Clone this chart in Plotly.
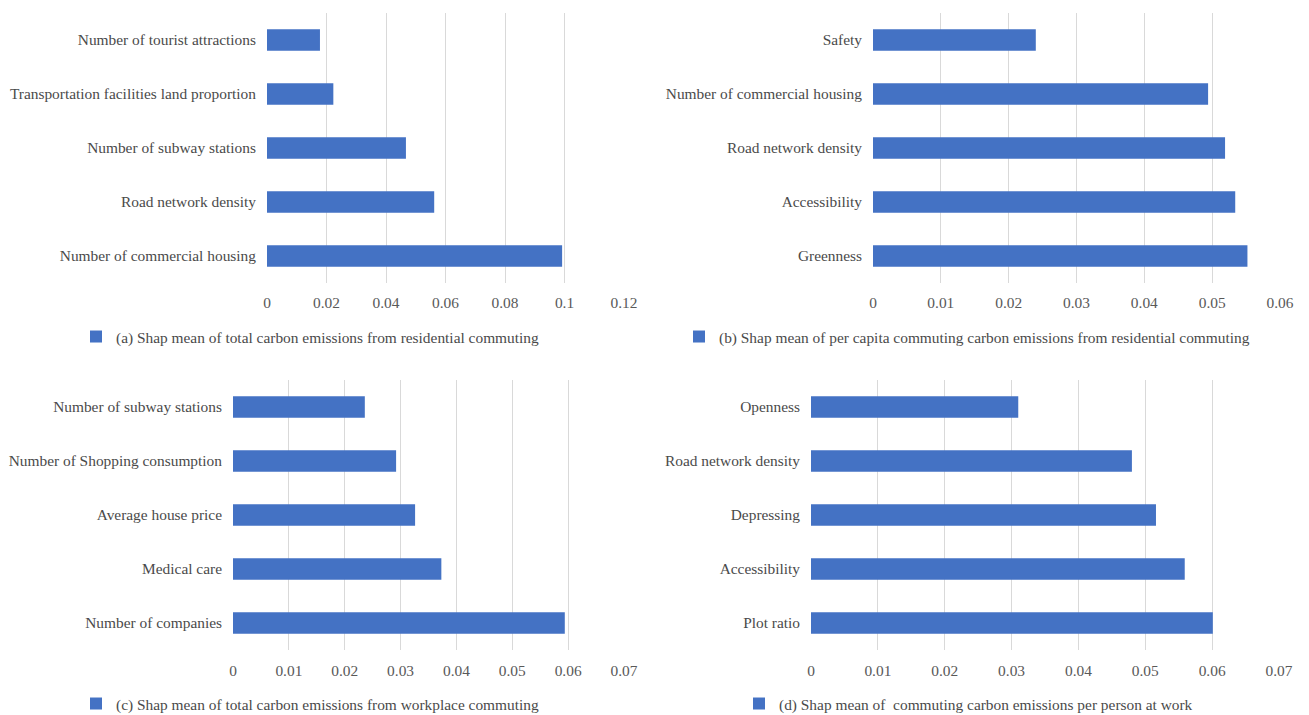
import plotly.graph_objects as go

# ---------------- data ----------------
cats_a = ["Number of tourist attractions", "Transportation facilities land proportion",
          "Number of subway stations", "Road network density", "Number of commercial housing"]
vals_a = [0.0178, 0.0223, 0.0467, 0.0562, 0.0992]
name_a = "(a) Shap mean of total carbon emissions from residential commuting"

cats_b = ["Safety", "Number of commercial housing", "Road network density",
          "Accessibility", "Greenness"]
vals_b = [0.0240, 0.0494, 0.0519, 0.0534, 0.0552]
name_b = "(b) Shap mean of per capita commuting carbon emissions from residential commuting"

cats_c = ["Number of subway stations", "Number of Shopping consumption",
          "Average house price", "Medical care", "Number of companies"]
vals_c = [0.0236, 0.0292, 0.0326, 0.0373, 0.0594]
name_c = "(c) Shap mean of total carbon emissions from workplace commuting"

cats_d = ["Openness", "Road network density", "Depressing", "Accessibility", "Plot ratio"]
vals_d = [0.0310, 0.0480, 0.0516, 0.0559, 0.0601]
name_d = "(d) Shap mean of  commuting carbon emissions per person at work"

ticks_a = [0, 0.02, 0.04, 0.06, 0.08, 0.1, 0.12]
ticks_b = [0, 0.01, 0.02, 0.03, 0.04, 0.05, 0.06]
ticks_cd = [0, 0.01, 0.02, 0.03, 0.04, 0.05, 0.06, 0.07]

# ---------------- styling ----------------
W, H = 1309, 715
BAR = "#4472C4"
GRID = "#D9D9D9"
FONT = "Times New Roman, Liberation Serif, DejaVu Serif, serif"
FS = 15.4
TXT = "#4a4a4a"
TICK = "#595959"

panels = [
    # cats, vals, name, ticks, x px range, y px range (top, bottom),
    # legend right edge x px, legend center y px, x tick-label standoff
    (cats_a, vals_a, name_a, ticks_a, (267, 624), (13, 283), 545, 337, 9),
    (cats_b, vals_b, name_b, ticks_b, (873, 1280), (13, 283), 1255, 337, 9),
    (cats_c, vals_c, name_c, ticks_cd, (233, 624), (380, 650), 545, 704, 10),
    (cats_d, vals_d, name_d, ticks_cd, (811, 1279), (380, 650), 1198, 704, 10),
]

fig = go.Figure()
layout = dict(
    width=W, height=H,
    margin=dict(l=0, r=0, t=0, b=0, autoexpand=False),
    paper_bgcolor="white", plot_bgcolor="white",
    font=dict(family=FONT, size=FS, color=TXT),
    showlegend=True,
)

for i, (cats, vals, name, ticks, (x0, x1), (yt, yb), lx, ly, sx) in enumerate(panels):
    k = "" if i == 0 else str(i + 1)
    lg = "legend" if i == 0 else f"legend{i + 1}"
    fig.add_trace(go.Bar(
        x=vals, y=cats, orientation="h", name=name,
        marker=dict(color=BAR, line=dict(width=0)),
        xaxis="x" + k, yaxis="y" + k, legend=lg,
        hovertemplate="%{y}: %{x}<extra></extra>",
    ))
    layout["xaxis" + k] = dict(
        domain=[x0 / W, x1 / W], anchor="y" + k,
        range=[0, ticks[-1]], tickvals=ticks,
        ticktext=[("%g" % t) for t in ticks],
        showgrid=True, gridcolor=GRID, gridwidth=1,
        zeroline=False, showline=False, ticks="",
        tickfont=dict(family=FONT, size=FS, color=TICK),
        ticklabelstandoff=sx, fixedrange=True,
    )
    layout["yaxis" + k] = dict(
        domain=[1 - yb / H, 1 - yt / H], anchor="x" + k,
        autorange="reversed", type="category",
        showgrid=False, zeroline=False, showline=False, ticks="",
        tickfont=dict(family=FONT, size=FS, color=TXT),
        ticklabelstandoff=10, fixedrange=True,
    )
    layout[lg] = dict(
        x=lx / W, y=1 - ly / H, xanchor="right", yanchor="middle",
        orientation="h", bgcolor="rgba(0,0,0,0)",
        font=dict(family=FONT, size=FS, color=TXT),
        itemwidth=30,
    )

layout["bargap"] = 0.6
fig.update_layout(**layout)
fig.write_html("out.html")
